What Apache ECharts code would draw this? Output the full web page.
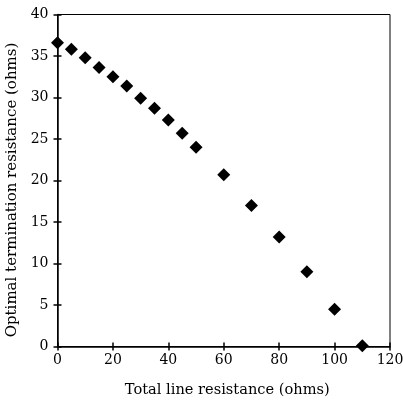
<!DOCTYPE html>
<html><head><meta charset="utf-8">
<script src="https://cdn.jsdelivr.net/npm/echarts@6/dist/echarts.min.js"></script>
<style>html,body{margin:0;padding:0;background:#fff}#c{width:403px;height:404px}</style>
</head><body><div id="c"></div>
<script>
const resistance = [0,5,10,15,20,25,30,35,40,45,50,60,70,80,90,100,110];
const termination = [36.6,35.8,34.8,33.6,32.5,31.4,29.9,28.7,27.3,25.7,24.0,20.7,17.0,13.2,9.0,4.5,0.1];
const xTicks = [0,20,40,60,80,100,120];
const yTicks = [0,5,10,15,20,25,30,35,40];
const font = '"DejaVu Serif", serif';
const chart = echarts.init(document.getElementById('c'), null, {renderer:'canvas'});
const base = {min:0, splitLine:{show:false}};
chart.setOption({
  animation:false,
  backgroundColor:'#fff',
  grid:{left:57.5, right:13, top:14.5, bottom:57.5, containLabel:false, outerBoundsMode:'none',
    show:true, borderColor:'#000', borderWidth:1, backgroundColor:'transparent'},
  xAxis:[
    Object.assign({}, base, {type:'value', max:120, interval:20, position:'bottom',
      name:'Total line resistance (ohms)', nameLocation:'middle', nameGap:36,
      nameTextStyle:{fontFamily:font, fontSize:14.6, color:'#000', padding:[0,0,0,7]},
      axisLine:{lineStyle:{color:'#000', width:1.5}},
      axisTick:{inside:false, length:4, lineStyle:{color:'#000', width:1.5}},
      axisLabel:{fontFamily:font, fontSize:14, color:'#000', margin:7}}),
    Object.assign({}, base, {type:'value', max:120, interval:20, position:'bottom', offset:0,
      axisLine:{show:false}, axisTick:{inside:true, length:4, lineStyle:{color:'#000', width:1.5}},
      axisLabel:{show:false}})
  ],
  yAxis:[
    Object.assign({}, base, {type:'value', max:40, interval:5, position:'left',
      name:'Optimal termination resistance (ohms)', nameLocation:'middle', nameGap:32,
      nameTextStyle:{fontFamily:font, fontSize:15, color:'#000', padding:[0,19,0,0]},
      axisLine:{lineStyle:{color:'#000', width:1.5}},
      axisTick:{inside:false, length:4, lineStyle:{color:'#000', width:1.5}},
      axisLabel:{fontFamily:font, fontSize:14, color:'#000', margin:9}}),
    Object.assign({}, base, {type:'value', max:40, interval:5, position:'left', offset:0,
      axisLine:{show:false}, axisTick:{inside:true, length:4, lineStyle:{color:'#000', width:1.5}},
      axisLabel:{show:false}})
  ],
  series:[{
    type:'scatter', xAxisIndex:0, yAxisIndex:0,
    data: resistance.map((x,i)=>[x, termination[i]]),
    symbol:'diamond', symbolSize:[13,13],
    itemStyle:{color:'#000', opacity:1}
  }]
});
</script></body></html>
